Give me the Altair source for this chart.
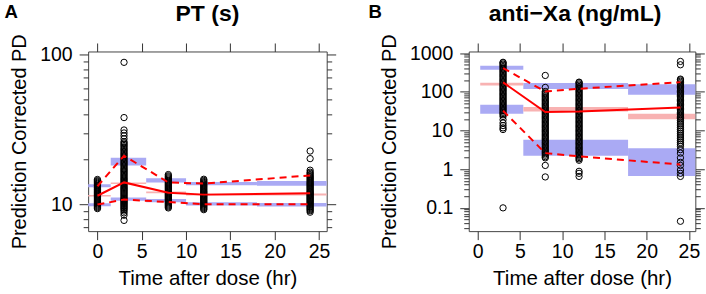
import altair as alt
import pandas as pd

FONT = "Liberation Sans"
TFONT = "Liberation Sans"

panel_letters = ["A", "B"]
panel_titles = ["PT (s)", "anti\u2212Xa (ng/mL)"]
x_title = "Time after dose (hr)"
y_title = "Prediction Corrected PD"
x_ticks = [0, 5, 10, 15, 20, 25]

# ---------------- Panel A : PT (s) ----------------
a_pts_t0 = [9.35, 9.5, 9.65, 9.8, 9.95, 10.1, 10.25, 10.4, 10.55, 10.7, 10.85, 11.0, 11.15,
            11.3, 11.45, 11.6, 11.75, 11.9, 12.05, 12.2, 12.4, 12.55, 12.7, 12.9, 13.05,
            13.25, 13.4, 13.6, 13.8, 14.0, 14.2, 14.4, 14.65]
a_pts_t3 = [7.8, 8.45, 8.75, 9.0, 9.2, 9.35, 9.5, 9.65, 9.8, 9.95, 10.1, 10.25, 10.4, 10.55,
            10.7, 10.85, 11.0, 11.2, 11.4, 11.6, 11.8, 12.0, 12.2, 12.4, 12.6, 12.8, 13.0,
            13.25, 13.5, 13.75, 14.0, 14.25, 14.5, 14.75, 15.0, 15.3, 15.6, 15.9, 16.2, 16.5,
            16.8, 17.1, 17.4, 17.75, 18.1, 18.45, 18.8, 19.15, 19.5, 19.9, 20.3, 20.7, 21.1,
            21.5, 21.9, 22.35, 22.8, 23.25, 23.7, 24.2, 24.7, 25.2, 25.7, 26.2, 27.4, 28.7,
            30.0, 31.4, 38.0, 89.0]
a_pts_t8 = [9.45, 9.6, 9.75, 9.9, 10.05, 10.2, 10.35, 10.5, 10.65, 10.8, 10.95, 11.1, 11.25,
            11.4, 11.55, 11.7, 11.85, 12.0, 12.2, 12.4, 12.6, 12.8, 13.0, 13.2, 13.4, 13.6,
            13.8, 14.0, 14.25, 14.5, 14.75, 15.0, 15.25, 15.5, 15.8]
a_pts_t12 = [9.2, 9.35, 9.5, 9.65, 9.8, 9.95, 10.1, 10.25, 10.4, 10.55, 10.7, 10.85, 11.0,
             11.15, 11.3, 11.45, 11.6, 11.75, 11.9, 12.05, 12.2, 12.4, 12.6, 12.8, 13.0, 13.2,
             13.4, 13.6, 13.8, 14.0, 14.2, 14.45, 14.7]
a_pts_t24 = [8.85, 9.05, 9.2, 9.35, 9.5, 9.65, 9.8, 9.95, 10.1, 10.25, 10.4, 10.55, 10.7,
             10.85, 11.0, 11.15, 11.3, 11.45, 11.6, 11.75, 11.9, 12.05, 12.2, 12.4, 12.6, 12.8,
             13.0, 13.2, 13.4, 13.6, 13.8, 14.0, 14.25, 14.5, 14.75, 15.0, 15.25, 15.5, 15.8,
             16.1, 16.4, 16.9, 20.2, 22.7]
a_times = [0, 3, 8, 12, 24]
a_med = [11.4, 14.0, 11.95, 11.6, 11.85]
a_p95 = [13.2, 21.1, 14.0, 13.75, 15.6]
a_p05 = [9.95, 10.75, 10.35, 10.0, 10.02]
a_bin_lo = [-2.0, 1.5, 5.5, 10.0, 18.0]
a_bin_hi = [1.5, 5.5, 10.0, 18.0, 28.0]
a_blue_hi_top = [13.6, 20.5, 14.9, 14.1, 14.3]
a_blue_hi_bot = [13.0, 18.2, 14.0, 13.4, 13.3]
a_pink_top = [11.55, 14.0, 12.15, 11.75, 11.8]
a_pink_bot = [11.25, 13.65, 11.85, 11.45, 11.45]
a_blue_lo_top = [10.15, 11.1, 10.85, 10.3, 10.2]
a_blue_lo_bot = [9.7, 10.55, 10.3, 9.8, 9.65]
a_y_major = [10, 100]
a_y_minor = [7, 8, 9, 20, 30, 40, 50, 60, 70, 80, 90]

# ---------------- Panel B : anti-Xa (ng/mL) ----------------
b_pts_t3 = [0.1, 10.6, 11.7, 13.4, 15.6, 19.0, 23.0, 25.5, 27.5, 29.5, 32, 34.5, 37, 40, 43,
            46.5, 50, 54, 58, 62.5, 67.5, 73, 78.5, 85, 91.5, 99, 107, 115, 124, 134, 144,
            156, 168, 181, 195, 210, 227, 245, 264, 285, 307, 331, 357, 385, 415, 448, 483,
            520, 560, 580]
b_pts_t8 = [0.63, 1.25, 1.96, 2.1, 2.3, 2.5, 2.7, 2.9, 3.15, 3.4, 3.65, 3.95, 4.3, 4.65, 5.0,
            5.4, 5.85, 6.3, 6.8, 7.35, 7.95, 8.6, 9.3, 10.0, 10.8, 11.7, 12.6, 13.6, 14.7,
            15.9, 17.2, 18.6, 20.1, 21.7, 23.4, 25.3, 27.3, 29.5, 31.9, 34.4, 37.2, 40.2,
            43.4, 46.9, 50.6, 54.7, 59.1, 63.8, 68.9, 74.4, 80.4, 86.8, 93.7, 102, 130, 265]
b_pts_t12 = [0.65, 0.78, 0.88, 1.7, 1.85, 2.0, 2.15, 2.3, 2.5, 2.7, 2.9, 3.15, 3.4, 3.65,
             3.95, 4.3, 4.65, 5.0, 5.4, 5.85, 6.3, 6.8, 7.35, 7.95, 8.6, 9.3, 10.0, 10.8,
             11.7, 12.6, 13.6, 14.7, 15.9, 17.2, 18.6, 20.1, 21.7, 23.4, 25.3, 27.3, 29.5,
             31.9, 34.4, 37.2, 40.2, 43.4, 46.9, 50.6, 54.7, 59.1, 63.8, 68.9, 74.4, 80.4,
             86.8, 93.7, 101, 109, 118, 127, 137, 148, 160, 172, 178]
b_pts_t24 = [0.045, 0.65, 0.78, 0.95, 1.25, 1.5, 1.96, 2.6, 3.2, 3.9, 4.4, 4.9, 5.5, 6.1, 6.8,
             7.6, 8.5, 9.5, 10.6, 11.8, 13.2, 14.7, 16.4, 18.3, 20.2, 21.8, 23.5, 25.4, 27.4,
             29.6, 32.0, 34.6, 37.4, 40.4, 43.6, 47.1, 50.9, 55.0, 59.4, 64.2, 69.3, 74.8,
             80.8, 87.3, 94.3, 102, 110, 119, 128, 138, 149, 161, 174, 188, 203, 213, 500, 610]
b_times = [3, 8, 12, 24]
b_med = [175, 30, 31, 39.5]
b_p95 = [410, 102, 120, 178]
b_p05 = [32.5, 2.6, 2.14, 1.32]
b_bin_lo = [0.3, 5.4, 17.8]
b_bin_hi = [5.4, 17.8, 28.0]
b_blue_hi_top = [470, 168, 158]
b_blue_hi_bot = [371, 118, 84]
b_pink_top = [172, 40.5, 27]
b_pink_bot = [145, 31.2, 19.5]
b_blue_lo_top = [46.4, 5.8, 3.5]
b_blue_lo_bot = [27.2, 2.24, 0.67]
b_y_major = [0.1, 1, 10, 100, 1000]
b_y_minor = ([0.03, 0.04, 0.05, 0.06, 0.07, 0.08, 0.09]
             + [0.2, 0.3, 0.4, 0.5, 0.6, 0.7, 0.8, 0.9]
             + [2, 3, 4, 5, 6, 7, 8, 9]
             + [20, 30, 40, 50, 60, 70, 80, 90]
             + [200, 300, 400, 500, 600, 700, 800, 900])

BLUE = "#aaaaf4"
PINK = "#f8b2b2"
RED = "#ff0000"
TICK = "#333333"


def build_panel(pts, times, med, p95, p05, bin_lo, bin_hi, bht, bhb, pkt, pkb, blt, blb,
                xdom, ydom, ymaj, ymin, width, height, letter, title, title_x, letter_x,
                y_extent, y_title_pad):
    pts_df = pd.DataFrame([{"t": t, "v": v} for t, vals in pts for v in vals])
    blue_rows, pink_rows = [], []
    for i in range(len(bin_lo)):
        blue_rows.append({"x1": bin_lo[i], "x2": bin_hi[i], "y1": bhb[i], "y2": bht[i]})
        blue_rows.append({"x1": bin_lo[i], "x2": bin_hi[i], "y1": blb[i], "y2": blt[i]})
        pink_rows.append({"x1": bin_lo[i], "x2": bin_hi[i], "y1": pkb[i], "y2": pkt[i]})
    blue_df = pd.DataFrame(blue_rows)
    pink_df = pd.DataFrame(pink_rows)
    med_df = pd.DataFrame({"t": times, "v": med})
    pct_df = pd.DataFrame({"t": times + times, "v": p95 + p05,
                           "s": ["p95"] * len(times) + ["p05"] * len(times)})

    xs = alt.Scale(domain=xdom, nice=False, zero=False)
    ys = alt.Scale(type="log", domain=ydom, nice=False)

    common = dict(domain=False, grid=False, tickColor=TICK, tickWidth=1, labelOverlap=False)
    ax_bottom = alt.Axis(orient="bottom", values=x_ticks, tickSize=8.5, labelPadding=2.8,
                         labelFont=FONT, labelFontSize=19.5, labelColor="black",
                         labelFlush=False, title=x_title, titleFont=FONT, titleFontSize=20.5,
                         titleFontWeight="normal", titleColor="black", titlePadding=7.6,
                         minExtent=30, maxExtent=30, **common)
    ax_top = alt.Axis(orient="top", values=x_ticks, tickSize=8.5, labels=False, title=None,
                      **common)
    ax_left = alt.Axis(orient="left", values=ymaj, format="~g", tickSize=9, labelPadding=7,
                       labelFont=FONT, labelFontSize=19.5, labelColor="black",
                       labelFlush=False, title=y_title, titleFont=FONT, titleFontSize=20,
                       titleFontWeight="normal", titleColor="black",
                       titlePadding=y_title_pad, minExtent=y_extent, maxExtent=y_extent,
                       **common)
    ax_left_minor = alt.Axis(orient="left", values=ymin, tickSize=5, labels=False,
                             title=None, **common)
    ax_right = alt.Axis(orient="right", values=ymaj, tickSize=9, labels=False, title=None,
                        **common)
    ax_right_minor = alt.Axis(orient="right", values=ymin, tickSize=5, labels=False,
                              title=None, **common)

    blue = alt.Chart(blue_df).mark_rect(color=BLUE, clip=True).encode(
        x=alt.X("x1:Q", scale=xs, axis=ax_bottom), x2="x2:Q",
        y=alt.Y("y1:Q", scale=ys, axis=ax_left), y2="y2:Q")
    pink = alt.Chart(pink_df).mark_rect(color=PINK, clip=True).encode(
        x=alt.X("x1:Q", scale=xs, axis=ax_top), x2="x2:Q",
        y=alt.Y("y1:Q", scale=ys, axis=ax_left_minor), y2="y2:Q")
    points = alt.Chart(pts_df).mark_point(shape="circle", filled=False, size=40,
                                           color="black", strokeWidth=1, opacity=1).encode(
        x=alt.X("t:Q", scale=xs, axis=None),
        y=alt.Y("v:Q", scale=ys, axis=ax_right))
    med_line = alt.Chart(med_df).mark_line(color=RED, strokeWidth=2).encode(
        x=alt.X("t:Q", scale=xs, axis=None),
        y=alt.Y("v:Q", scale=ys, axis=ax_right_minor))
    pct_line = alt.Chart(pct_df).mark_line(color=RED, strokeWidth=2,
                                            strokeDash=[7, 5]).encode(
        x=alt.X("t:Q", scale=xs, axis=None),
        y=alt.Y("v:Q", scale=ys, axis=None), detail="s:N")
    letter_txt = alt.Chart(pd.DataFrame({"lab": [letter]})).mark_text(
        font=FONT, fontSize=18.6, fontWeight="bold", align="left", baseline="alphabetic",
        color="black").encode(text="lab:N", x=alt.value(letter_x), y=alt.value(-33.4))
    title_txt = alt.Chart(pd.DataFrame({"lab": [title]})).mark_text(
        font=TFONT, fontSize=23, fontWeight="bold", align="center", baseline="alphabetic",
        color="black").encode(text="lab:N", x=alt.value(title_x), y=alt.value(-30.7))

    return alt.layer(blue, pink, points, med_line, pct_line, letter_txt, title_txt).resolve_axis(
        x="independent", y="independent").properties(width=width, height=height)


panel_a = build_panel(
    [(0, a_pts_t0), (3, a_pts_t3), (8, a_pts_t8), (12, a_pts_t12), (24, a_pts_t24)],
    a_times, a_med, a_p95, a_p05, a_bin_lo, a_bin_hi, a_blue_hi_top, a_blue_hi_bot,
    a_pink_top, a_pink_bot, a_blue_lo_top, a_blue_lo_bot,
    [-1.05, 25.87], [6.61, 105.2], a_y_major, a_y_minor, 239, 180,
    panel_letters[0], panel_titles[0], 119.5, -83.7, 47.7, 10.6)

panel_b = build_panel(
    [(3, b_pts_t3), (8, b_pts_t8), (12, b_pts_t12), (24, b_pts_t24)],
    b_times, b_med, b_p95, b_p05, b_bin_lo, b_bin_hi, b_blue_hi_top, b_blue_hi_bot,
    b_pink_top, b_pink_bot, b_blue_lo_top, b_blue_lo_bot,
    [-1.06, 25.76], [0.025, 1104], b_y_major, b_y_minor, 227, 180,
    panel_letters[1], panel_titles[1], 106.5, -100.4, 59.3, 10.5)

chart = alt.hconcat(panel_a, panel_b, spacing=31.3).properties(
    padding={"left": 3.3, "top": 1.3, "right": 0, "bottom": 0}
).configure_view(stroke="#444444", strokeWidth=1)

chart.save("out.html", embed_options={"renderer": "svg", "actions": False})
